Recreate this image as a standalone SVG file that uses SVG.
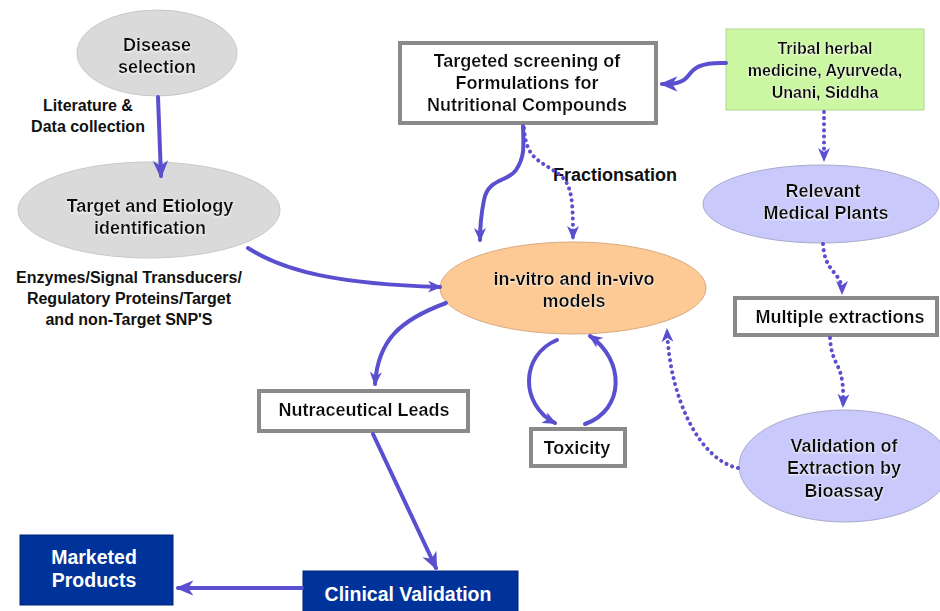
<svg xmlns="http://www.w3.org/2000/svg" width="940" height="611" viewBox="0 0 940 611">
<defs>
<marker id="ah" viewBox="0 0 14 12" refX="12" refY="6" markerWidth="14" markerHeight="12" markerUnits="userSpaceOnUse" orient="auto">
<path d="M0,0 L14,6 L0,12 L4,6 Z" fill="#5a4fcf"/>
</marker>
<marker id="ahb" viewBox="0 0 14 12" refX="12" refY="6" markerWidth="18" markerHeight="16" markerUnits="userSpaceOnUse" orient="auto">
<path d="M0,0 L14,6 L0,12 L4,6 Z" fill="#5a4fcf"/>
</marker>
<filter id="sh" x="-10%" y="-10%" width="120%" height="130%">
<feGaussianBlur in="SourceAlpha" stdDeviation="1"/>
<feOffset dx="0" dy="1" result="b"/>
<feFlood flood-color="#ffffff" flood-opacity="0.9"/>
<feComposite in2="b" operator="in"/>
<feMerge><feMergeNode/><feMergeNode in="SourceGraphic"/></feMerge>
</filter>
</defs>
<style>
text{font-family:"Liberation Sans",Arial,sans-serif;font-weight:bold;font-size:18px;fill:#111;text-anchor:middle}
.lbl{font-size:16px}
.wt{fill:#fff;font-size:19.5px}
.box{fill:#fff;stroke:#8a8a8a;stroke-width:4}
.gray{fill:#dadada;stroke:#c8c8c8;stroke-width:1}
.lav{fill:#c9c9fb;stroke:#aaaacc;stroke-width:1}
.peach{fill:#fdc994;stroke:#d8aa80;stroke-width:1}
.green{fill:#ccf7a2;stroke:#b0d890;stroke-width:1}
.dark{fill:#003399;stroke:#002277;stroke-width:1}
.c{fill:none;stroke:#5a4fcf;stroke-width:4;stroke-linecap:round}
.cd{fill:none;stroke:#5a4fcf;stroke-width:4;stroke-linecap:round;stroke-dasharray:0.1 6}
</style>
<rect width="940" height="611" fill="#fff"/>

<g id="disease">
<ellipse class="gray" cx="157" cy="53" rx="80" ry="43"/>
<text x="157" y="51" filter="url(#sh)">Disease</text>
<text x="157" y="73" filter="url(#sh)">selection</text>
</g>
<g id="lit-label">
<text class="lbl" x="88" y="111">Literature &amp;</text>
<text class="lbl" x="88" y="132">Data collection</text>
</g>
<g id="target">
<ellipse class="gray" cx="149" cy="210" rx="131" ry="48"/>
<text x="150" y="212" filter="url(#sh)">Target and Etiology</text>
<text x="150" y="234" filter="url(#sh)">identification</text>
</g>
<g id="enz-label">
<text class="lbl" x="129" y="283">Enzymes/Signal Transducers/</text>
<text class="lbl" x="129" y="304">Regulatory Proteins/Target</text>
<text class="lbl" x="129" y="325">and non-Target SNP'S</text>
</g>
<g id="screening">
<rect class="box" x="400" y="43" width="256" height="80"/>
<text x="527" y="67" filter="url(#sh)">Targeted screening of</text>
<text x="527" y="89" filter="url(#sh)">Formulations for</text>
<text x="527" y="111" filter="url(#sh)">Nutritional Compounds</text>
</g>
<g id="tribal">
<rect class="green" x="726" y="29" width="198" height="81"/>
<text class="lbl" x="825" y="54" filter="url(#sh)">Tribal herbal</text>
<text class="lbl" x="825" y="76" filter="url(#sh)">medicine, Ayurveda,</text>
<text class="lbl" x="825" y="98" filter="url(#sh)">Unani, Siddha</text>
</g>
<g id="fract-label">
<text x="615" y="181">Fractionsation</text>
</g>
<g id="relevant">
<ellipse class="lav" cx="821" cy="204" rx="118" ry="39"/>
<text x="823" y="197" filter="url(#sh)">Relevant</text>
<text x="826" y="219" filter="url(#sh)">Medical Plants</text>
</g>
<g id="multiple">
<rect class="box" x="735" y="298" width="202" height="37"/>
<text x="840" y="323" filter="url(#sh)">Multiple extractions</text>
</g>
<g id="validation">
<ellipse class="lav" cx="845" cy="466" rx="106" ry="56"/>
<text x="844" y="452" filter="url(#sh)">Validation of</text>
<text x="844" y="474" filter="url(#sh)">Extraction by</text>
<text x="844" y="497" filter="url(#sh)">Bioassay</text>
</g>
<g id="invitro">
<ellipse class="peach" cx="573" cy="288" rx="133" ry="46"/>
<text x="574" y="285" filter="url(#sh)">in-vitro and in-vivo</text>
<text x="574" y="307" filter="url(#sh)">models</text>
</g>
<g id="toxicity">
<rect class="box" x="531" y="429" width="94" height="37"/>
<text x="577" y="454" filter="url(#sh)">Toxicity</text>
</g>
<g id="leads">
<rect class="box" x="259" y="391" width="209" height="40"/>
<text x="364" y="416" filter="url(#sh)">Nutraceutical Leads</text>
</g>
<g id="clinical">
<rect class="dark" x="303" y="571" width="215" height="45"/>
<text class="wt" x="408" y="601">Clinical Validation</text>
</g>
<g id="marketed">
<rect class="dark" x="20" y="535" width="153" height="70"/>
<text class="wt" x="94" y="564">Marketed</text>
<text class="wt" x="94" y="587">Products</text>
</g>

<g id="connectors">
<path class="c" d="M158,97 L161,176" marker-end="url(#ahb)"/>
<path class="c" d="M248,248 C285,272 340,284 440,287" marker-end="url(#ah)"/>
<path class="c" d="M726,63 C700,62 694,68 688,76 C682,84 672,84 662,84" marker-end="url(#ahb)"/>
<path class="c" d="M523,126 C524,150 524,158 516,170 C508,182 488,178 484,200 C481,215 480,225 480,240" marker-end="url(#ah)"/>
<path class="cd" d="M524,128 C526,160 540,160 560,175 C572,185 573,200 573,238" marker-end="url(#ah)"/>
<path class="cd" d="M824,112 L824,160" marker-end="url(#ah)"/>
<path class="cd" d="M823,244 C825,275 842,270 842,293" marker-end="url(#ah)"/>
<path class="cd" d="M830,338 C832,370 845,360 843,406" marker-end="url(#ah)"/>
<path class="cd" d="M738,468 C700,460 670,400 667,330" marker-end="url(#ah)"/>
<path class="c" d="M446,303 C400,320 378,340 375,384" marker-end="url(#ah)"/>
<path class="c" d="M557,340 C520,355 520,405 555,423" marker-end="url(#ah)"/>
<path class="c" d="M585,424 C625,410 625,360 590,336" marker-end="url(#ah)"/>
<path class="c" d="M373,434 L436,568" marker-end="url(#ahb)"/>
<path class="c" d="M302,588 L178,588" marker-end="url(#ahb)"/>
</g>
</svg>
